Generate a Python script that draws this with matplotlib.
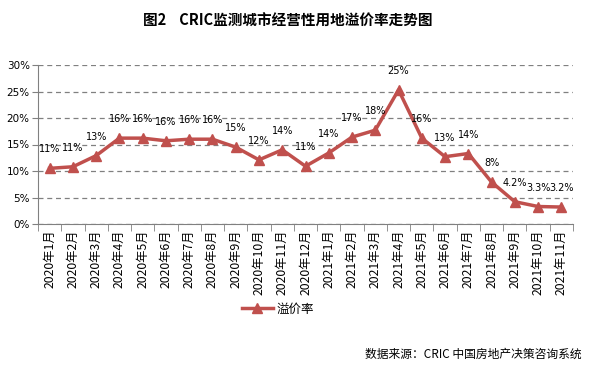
import matplotlib.pyplot as plt
import numpy as np

plt.rcParams['font.family'] = ['Noto Sans CJK SC', 'DejaVu Sans']

# data
months = ['2020年1月', '2020年2月', '2020年3月', '2020年4月', '2020年5月', '2020年6月',
          '2020年7月', '2020年8月', '2020年9月', '2020年10月', '2020年11月', '2020年12月',
          '2021年1月', '2021年2月', '2021年3月', '2021年4月', '2021年5月', '2021年6月',
          '2021年7月', '2021年8月', '2021年9月', '2021年10月', '2021年11月']
premium = [10.5, 10.8, 12.9, 16.2, 16.2, 15.7, 16.0, 16.0, 14.5, 12.1, 14.0, 10.9,
           13.4, 16.4, 17.7, 25.3, 16.2, 12.7, 13.3, 7.9, 4.2, 3.3, 3.2]
labels = ['11%', '11%', '13%', '16%', '16%', '16%', '16%', '16%', '15%', '12%', '14%', '11%',
          '14%', '17%', '18%', '25%', '16%', '13%', '14%', '8%', '4.2%', '3.3%', '3.2%']
yticks = [0, 5, 10, 15, 20, 25, 30]

fig = plt.figure(figsize=(5.97, 3.70), dpi=100)
ax = fig.add_axes([38/597, 1 - 224/370, 535/597, 159/370])

x = np.arange(len(months))
ax.plot(x, premium, color='#C0504D', lw=2.5, marker='^', ms=7.5,
        markeredgecolor='#C0504D', label='溢价率')
for xi, v, t in zip(x, premium, labels):
    ax.annotate(t, (xi, v), xytext=(0, 10), textcoords='offset points',
                ha='center', va='bottom', fontsize=7, family='DejaVu Sans')

ax.set_xlim(-0.5, len(months) - 0.5)
ax.set_ylim(0, 30)
ax.set_yticks(yticks)
ax.set_yticklabels([f'{t}%' for t in yticks], fontsize=7.5, family='DejaVu Sans')
ax.yaxis.grid(True, ls=(0, (4, 3)), color='#808080', lw=0.9)
ax.set_axisbelow(True)

ax.set_xticks(x)
ax.set_xticklabels(months, rotation=90, fontsize=8.8)
ax.set_xticks(np.arange(-0.5, len(months)), minor=True)
ax.tick_params(axis='x', which='major', length=0, pad=4)
ax.tick_params(axis='x', which='minor', length=5, color='#808080')
ax.tick_params(axis='y', length=4, color='#808080', pad=2)

for s in ['top', 'right']:
    ax.spines[s].set_visible(False)
for s in ['left', 'bottom']:
    ax.spines[s].set_color('#808080')

fig.legend(loc='center', bbox_to_anchor=(278/597, 1 - 309/370), frameon=False,
           fontsize=9, handlelength=2.5, handletextpad=0.3)

fig.text(143/597, 1 - 21/370, '图2    CRIC监测城市经营性用地溢价率走势图',
         ha='left', va='center', fontsize=10.5, fontweight='bold')
fig.text(582/597, 1 - 354/370, '数据来源：CRIC 中国房地产决策咨询系统',
         ha='right', va='center', fontsize=8.5)

fig.savefig('out.png', dpi=100)
